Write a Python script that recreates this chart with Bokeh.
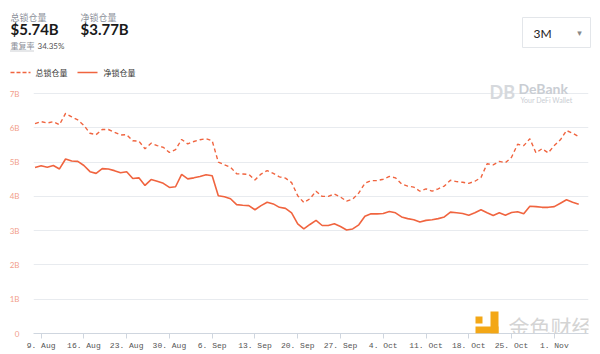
import datetime as dt
from bokeh.plotting import figure
from bokeh.layouts import column
from bokeh.models import (FixedTicker, DatetimeTickFormatter, Label, BoxAnnotation, Range1d,
                          ColumnDataSource)
from bokeh.embed import file_html
from bokeh.resources import INLINE

# ---------------- data ----------------
start_date = "2021-08-08"
total_tvl = [
    # Aug 8 - Aug 31
    6.12, 6.18, 6.14, 6.18, 6.09, 6.42, 6.32, 6.23, 6.07, 5.84, 5.80, 5.95, 5.95, 5.87, 5.79, 5.80,
    5.62, 5.61, 5.39, 5.55, 5.48, 5.43, 5.28, 5.36,
    # Sep
    5.66, 5.53, 5.60, 5.65, 5.68, 5.62, 5.00, 4.92, 4.85, 4.66, 4.65, 4.64, 4.48, 4.65, 4.75,
    4.67, 4.57, 4.53, 4.40, 4.02, 3.82, 3.93, 4.15, 4.00, 4.00, 4.07, 3.98, 3.86, 3.92, 4.10,
    # Oct
    4.38, 4.46, 4.46, 4.50, 4.58, 4.54, 4.36, 4.30, 4.27, 4.15, 4.22, 4.15, 4.22, 4.30, 4.47,
    4.43, 4.41, 4.38, 4.44, 4.55, 4.95, 4.92, 5.02, 4.98, 5.14, 5.52, 5.48, 5.68, 5.27, 5.39, 5.27,
    # Nov
    5.48, 5.65, 5.92, 5.84, 5.74,
]
net_tvl = [
    4.84, 4.89, 4.85, 4.90, 4.80, 5.09, 5.03, 5.02, 4.90, 4.72, 4.67, 4.81, 4.80, 4.75, 4.69, 4.72,
    4.52, 4.54, 4.32, 4.49, 4.44, 4.38, 4.26, 4.28,
    4.64, 4.51, 4.54, 4.58, 4.63, 4.60, 4.02, 3.99, 3.93, 3.76, 3.74, 3.73, 3.61, 3.73, 3.83,
    3.78, 3.68, 3.65, 3.52, 3.20, 3.05, 3.18, 3.30, 3.15, 3.15, 3.20, 3.12, 3.02, 3.05, 3.17,
    3.42, 3.49, 3.49, 3.50, 3.56, 3.52, 3.40, 3.35, 3.32, 3.25, 3.30, 3.32, 3.35, 3.40, 3.54,
    3.52, 3.50, 3.45, 3.52, 3.61, 3.52, 3.44, 3.52, 3.45, 3.53, 3.55, 3.49, 3.71, 3.70, 3.68, 3.68,
    3.70, 3.80, 3.90, 3.83, 3.77,
]
x_ticks_dates = ["2021-08-09", "2021-08-16", "2021-08-23", "2021-08-30", "2021-09-06",
                 "2021-09-13", "2021-09-20", "2021-09-27", "2021-10-04", "2021-10-11",
                 "2021-10-18", "2021-10-25", "2021-11-01"]
y_ticks = [0, 1, 2, 3, 4, 5, 6, 7]
y_tick_labels = ["0", "1B", "2B", "3B", "4B", "5B", "6B", "7B"]
series_names = ["总锁仓量", "净锁仓量"]
header_total = "$5.74B"
header_net = "$3.77B"
dup_label = "重复率"
dup_rate = "34.35%"
period = "3M"

# ---------------- layout constants ----------------
W, H = 600, 354
HEAD_H = 78          # header strip height
FL, FB = 33, 333     # chart frame left / bottom (canvas pixels)
Y7 = 93              # canvas y of the 7B gridline
LINE = "#f0643f"
CJK = "Noto Sans CJK SC"

# ---------------- header figure (data coords == pixels) ----------------
hd = figure(width=W, height=HEAD_H, output_backend="svg", toolbar_location=None,
            x_axis_location=None, y_axis_location=None, min_border=0,
            x_range=Range1d(0, W), y_range=Range1d(HEAD_H, 0))
hd.outline_line_color = None
hd.xgrid.visible = False
hd.ygrid.visible = False
hd.frame_align = False


def hlab(x, y, text, size, color, font="Lato", style="normal", baseline="top", align="left"):
    hd.add_layout(Label(x=x, y=y, text=text, text_font=font, text_font_size=f"{size}px",
                        text_color=color, text_font_style=style, text_baseline=baseline,
                        text_align=align))


hlab(10, 10, series_names[0], 9, "#8a8f99", CJK)
hlab(10, 19, header_total, 15, "#1a1a1a", "Lato", "bold")
hlab(80, 10, series_names[1], 9, "#8a8f99", CJK)
hlab(80, 19, header_net, 15, "#1a1a1a", "Lato", "bold")
hlab(10, 39, dup_label, 8, "#8a8f99", CJK)
hd.line([10, 34], [50.5, 50.5], line_color="#9aa0a8", line_width=1, line_dash="1 1")
hlab(37, 40, dup_rate, 8, "#555555", "Lato")

# dropdown
hd.quad(left=[522], right=[590], top=[17], bottom=[47], fill_color="white",
        line_color="#e3e6ea", line_width=1)
hlab(533, 25, period, 12, "#222222", "Lato")
hlab(579, 27, "▾", 9, "#888888", "DejaVu Sans", align="center")

# legend
hd.line([10, 30], [72, 72], line_color=LINE, line_width=1.5, line_dash="4 2")
hlab(35, 72, series_names[0], 8, "#333333", CJK, baseline="middle")
hd.line([77, 97], [72, 72], line_color=LINE, line_width=1.5)
hlab(103, 72, series_names[1], 8, "#333333", CJK, baseline="middle")

# ---------------- chart figure ----------------
d0 = dt.datetime.fromisoformat(start_date)
dates = [d0 + dt.timedelta(days=i) for i in range(len(total_tvl))]
src = ColumnDataSource(dict(date=dates, total=total_tvl, net=net_tvl))

CH = H - HEAD_H
p = figure(width=W, height=CH, x_axis_type="datetime", output_backend="svg",
           toolbar_location=None, min_border_left=FL, min_border_right=12,
           min_border_top=0, min_border_bottom=H - FB)
p.frame_align = False
px_per_unit = (FB - Y7) / 7.0
p.y_range = Range1d(0, 7 + (Y7 - HEAD_H) / px_per_unit)
p.x_range = Range1d(dates[0] - dt.timedelta(hours=6), dates[-1] + dt.timedelta(days=1.6))
p.outline_line_color = None

p.line("date", "total", source=src, line_color=LINE, line_width=1.4, line_dash="4 3")
p.line("date", "net", source=src, line_color=LINE, line_width=1.6)

tick_ms = [dt.datetime.fromisoformat(s).replace(tzinfo=dt.timezone.utc).timestamp() * 1000
           for s in x_ticks_dates]
p.xaxis.ticker = FixedTicker(ticks=tick_ms)
p.xaxis.formatter = DatetimeTickFormatter(days="%-d. %b", months="%-d. %b")
p.xaxis.axis_line_color = "#cfd6df"
p.xaxis.major_tick_line_color = "#cfd6df"
p.xaxis.major_tick_in = 0
p.xaxis.major_tick_out = 5
p.xaxis.minor_tick_line_color = None
p.xaxis.major_label_text_font = "Liberation Mono"
p.xaxis.major_label_text_font_size = "8px"
p.xaxis.major_label_text_color = "#555555"
p.xaxis.major_label_standoff = 2

p.yaxis.ticker = FixedTicker(ticks=y_ticks)
p.yaxis.major_label_overrides = {t: l for t, l in zip(y_ticks, y_tick_labels)}
p.yaxis.axis_line_color = None
p.yaxis.major_tick_line_color = None
p.yaxis.minor_tick_line_color = None
p.yaxis.major_label_text_font = "Lato"
p.yaxis.major_label_text_font_size = "8px"
p.yaxis.major_label_text_color = "#f2a08c"
p.yaxis.major_label_standoff = 8

p.xgrid.grid_line_color = None
p.ygrid.grid_line_color = "#e8ebef"
p.ygrid.grid_line_width = 1


def lab(cx, cy, text, size, color, font="Lato", style="normal", baseline="top", align="left"):
    """cx, cy: canvas pixels from the page's top-left corner."""
    p.add_layout(Label(x=cx - FL, y=FB - cy, x_units="screen", y_units="screen", text=text,
                       text_font=font, text_font_size=f"{size}px", text_color=color,
                       text_font_style=style, text_baseline=baseline, text_align=align))


def box(cx0, cx1, cy0, cy1, color):
    p.add_layout(BoxAnnotation(left=cx0 - FL, right=cx1 - FL, top=FB - cy0, bottom=FB - cy1,
                               left_units="screen", right_units="screen",
                               top_units="screen", bottom_units="screen",
                               fill_color=color, fill_alpha=1, line_color=None))


# DeBank watermark
lab(489, 80, "DB", 18, "#d6d9dd", "Lato", "bold")
lab(518, 79, "DeBank", 14, "#c9cdd3", "Lato", "bold")
lab(520, 95, "Your DeFi Wallet", 7, "#c9cdd3", "Lato")

# 金色财经 watermark (kept inside the plot frame)
box(490, 498, 311, 333, "#f3a716")
box(475, 498, 326, 333, "#f3a716")
box(475, 482, 316, 323, "#f3a716")
lab(508, 310, "金色财经", 21, "#d4d4d4", CJK)

open("out.html", "w").write(file_html(column(hd, p, spacing=0), INLINE))
